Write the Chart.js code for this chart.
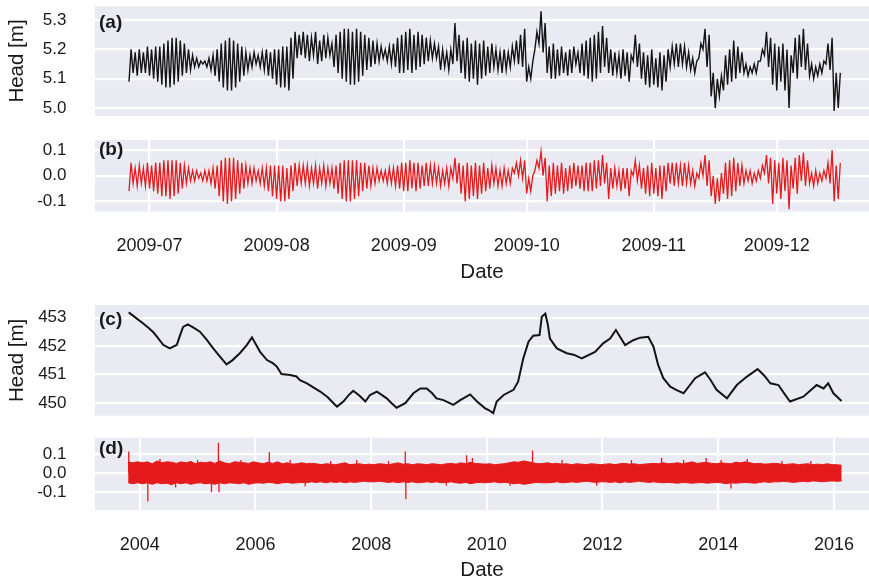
<!DOCTYPE html>
<html><head><meta charset="utf-8">
<script src="https://cdn.jsdelivr.net/npm/chart.js@4/dist/chart.umd.min.js"></script>
<style>
html,body{margin:0;padding:0;background:#fff;overflow:hidden;}
#wrap{position:relative;width:869px;height:582px;}
.pane{position:absolute;left:0;width:869px;}
</style></head><body>
<div id="wrap">
<div class="pane" style="top:0px;height:125px"><canvas id="ca" width="869" height="125"></canvas></div>
<div class="pane" style="top:125px;height:170px"><canvas id="cb" width="869" height="170"></canvas></div>
<div class="pane" style="top:295px;height:125px"><canvas id="cc" width="869" height="125"></canvas></div>
<div class="pane" style="top:420px;height:170px"><canvas id="cd" width="869" height="170"></canvas></div>
</div>
<script>
// ---------- DATA ----------
// Panels (a)/(b): day-of-year 2009 (Jan 1 = 0); one low and one high per day
const dayStart = 176; // 2009-06-26
const aHigh = [5.20,5.19,5.20,5.19,5.21,5.20,5.21, 5.21,5.22,5.23,5.24,5.24,5.23,5.22,5.20, 5.18,5.17,5.16,5.16,5.17,5.18,5.20,
  5.22,5.23,5.24,5.23,5.22,5.21,5.19, 5.18,5.19,5.18,5.19,5.20,5.19,5.20, 5.20,5.21,5.21,5.24, 5.26,5.25,5.26,
  5.25,5.24,5.26,5.23,5.25,5.24,5.22, 5.25,5.26,5.27,5.27,5.26,5.27,5.26,5.25,5.24,5.23, 5.22,5.21,5.20,5.21,5.22,
  5.24,5.25,5.26,5.27,5.25,5.26,5.25,5.24,5.23,5.22,5.21, 5.20,5.19,5.20, 5.29,5.25, 5.23,5.24,5.22,5.23,5.22,5.23,5.21,5.22,
  5.20,5.19,5.20,5.19,5.21, 5.23,5.25,5.27, 5.14,5.16, 5.26,5.33,5.29, 5.21,5.22,5.20,5.21,5.19,5.20,5.21,5.19,
  5.22,5.23,5.24,5.25,5.26,5.28,5.24, 5.20,5.19,5.18,5.20,5.19,5.18, 5.25,5.22, 5.19,5.18,5.20,5.17,5.19,5.18,5.20,
  5.21,5.22,5.22,5.21,5.19, 5.17,5.16, 5.22,5.27,5.25, 5.12,5.10,5.11, 5.18,5.20,5.23,5.21,5.19, 5.15,5.14,5.15,5.16,
  5.20,5.26,5.24, 5.22,5.21,5.22,5.20,5.18, 5.24,5.25,5.27,5.22, 5.15,5.14,5.15,5.16, 5.22,5.24, 5.12,5.12];
const aLow = [5.09,5.12,5.11,5.12,5.12,5.11,5.10, 5.09,5.08,5.07,5.07,5.08,5.09,5.11,5.12, 5.13,5.14,5.14,5.15,5.14,5.13,5.11,
  5.09,5.07,5.06,5.06,5.07,5.09,5.11, 5.13,5.14,5.15,5.14,5.13,5.11,5.10, 5.08,5.07,5.07,5.06, 5.10,5.17,5.18,
  5.17,5.16,5.18,5.15,5.16,5.17,5.18, 5.14,5.12,5.10,5.09,5.08,5.08,5.09,5.11,5.13,5.14, 5.15,5.16,5.17,5.16,5.15,
  5.14,5.12,5.12,5.13,5.12,5.13,5.14,5.15,5.16,5.17,5.17, 5.13,5.14,5.13, 5.15,5.16, 5.12,5.10,5.09,5.10,5.08,5.10,5.11,5.12,
  5.14,5.13,5.12,5.13,5.14, 5.16,5.15,5.14, 5.09,5.10, 5.20,5.22,5.19, 5.12,5.10,5.10,5.11,5.12,5.11,5.12,5.15,
  5.12,5.11,5.10,5.09,5.10,5.12,5.14, 5.12,5.11,5.12,5.10,5.11,5.09, 5.16,5.14, 5.10,5.08,5.07,5.08,5.07,5.06,5.09,
  5.14,5.15,5.14,5.15,5.14, 5.13,5.12, 5.17,5.20,5.14, 5.04,5.00,5.04, 5.06,5.08,5.09,5.10,5.12, 5.12,5.11,5.12,5.12,
  5.16,5.18,5.14, 5.08,5.06,5.09,5.06,5.00, 5.12,5.10,5.14,5.13, 5.11,5.10,5.11,5.12, 5.15,5.13, 4.99,5.00];
const bHigh = [0.05,0.03,0.04,0.03,0.05,0.04,0.05, 0.05,0.06,0.06,0.06,0.06,0.05,0.04,0.03, 0.02,0.02,0.01,0.02,0.02,0.03,0.04,
  0.06,0.07,0.07,0.07,0.06,0.05,0.04, 0.03,0.03,0.02,0.03,0.03,0.04,0.04, 0.04,0.04,0.03,0.04, 0.05,0.04,0.04,
  0.04,0.03,0.04,0.03,0.04,0.03,0.03, 0.04,0.05,0.06,0.06,0.06,0.06,0.05,0.05,0.04,0.03, 0.03,0.02,0.02,0.03,0.03,
  0.04,0.05,0.05,0.06,0.05,0.05,0.04,0.05,0.04,0.04,0.03, 0.02,0.03,0.03, 0.07,0.05, 0.04,0.05,0.04,0.05,0.04,0.05,0.03,0.04,
  0.03,0.02,0.03,0.02,0.03, 0.05,0.06,0.06, -0.01,0.00, 0.06,0.095,0.07, 0.04,0.05,0.04,0.05,0.03,0.04,0.05,0.04,
  0.04,0.05,0.05,0.06,0.06,0.08,0.05, 0.03,0.03,0.02,0.03,0.03,0.02, 0.06,0.04, 0.03,0.04,0.05,0.03,0.04,0.04,0.05,
  0.05,0.05,0.04,0.05,0.04, 0.02,0.01, 0.05,0.08,0.06, 0.00,-0.01,0.01, 0.05,0.06,0.07,0.05,0.04, 0.02,0.02,0.01,0.02,
  0.04,0.08,0.07, 0.06,0.05,0.07,0.06,0.04, 0.07,0.08,0.09,0.06, 0.01,0.02,0.01,0.02, 0.05,0.10, 0.04,0.05];
const bLow = [-0.06,-0.03,-0.04,-0.03,-0.04,-0.05,-0.06, -0.07,-0.08,-0.08,-0.09,-0.08,-0.07,-0.05,-0.03, -0.02,-0.02,-0.01,-0.02,-0.02,-0.03,-0.05,
  -0.08,-0.10,-0.11,-0.10,-0.09,-0.07,-0.05, -0.03,-0.03,-0.02,-0.03,-0.04,-0.06,-0.08, -0.09,-0.10,-0.10,-0.09, -0.06,-0.04,-0.03,
  -0.03,-0.04,-0.03,-0.05,-0.03,-0.04,-0.03, -0.05,-0.07,-0.09,-0.10,-0.10,-0.09,-0.08,-0.06,-0.05,-0.04, -0.03,-0.02,-0.02,-0.03,-0.03,
  -0.04,-0.05,-0.06,-0.06,-0.05,-0.06,-0.05,-0.04,-0.04,-0.03,-0.03, -0.04,-0.03,-0.04, -0.01,-0.03, -0.07,-0.10,-0.09,-0.08,-0.09,-0.07,-0.06,-0.05,
  -0.03,-0.04,-0.04,-0.03,-0.03, 0.01,0.00,-0.01, -0.07,-0.06, 0.02,0.03,0.00, -0.10,-0.08,-0.07,-0.06,-0.07,-0.06,-0.05,-0.04,
  -0.05,-0.06,-0.06,-0.06,-0.05,-0.04,-0.03, -0.09,-0.05,-0.04,-0.06,-0.05,-0.08, 0.00,-0.02, -0.05,-0.07,-0.08,-0.07,-0.08,-0.09,-0.06,
  -0.03,-0.04,-0.03,-0.04,-0.03, -0.03,-0.04, -0.01,0.00,-0.04, -0.08,-0.11,-0.10, -0.07,-0.09,-0.08,-0.06,-0.04, -0.03,-0.02,-0.03,-0.02,
  -0.01,0.01,-0.03, -0.11,-0.07,-0.09,-0.06,-0.13, -0.05,-0.07,-0.02,-0.04, -0.03,-0.04,-0.03,-0.02, -0.01,-0.03, -0.10,-0.09];
const monthTickDays = [181, 212, 243, 273, 304, 334];
const monthTickLabels = ['2009-07','2009-08','2009-09','2009-10','2009-11','2009-12'];
const aYTicks = [5.0, 5.1, 5.2, 5.3];
const aYLabels = ['5.0','5.1','5.2','5.3'];
const bYTicks = [-0.1, 0.0, 0.1];
const bYLabels = ['-0.1','0.0','0.1'];

// Panels (c)/(d): decimal years
const cYears = [2003.81,2003.9,2004.06,2004.15,2004.24,2004.33,2004.41,2004.52,2004.58,2004.64,2004.70,2004.75,2004.83,2004.93,
  2005.04,2005.15,2005.27,2005.38,2005.50,2005.60,2005.73,2005.85,2005.94,2006.08,2006.20,2006.30,2006.37,2006.45,2006.60,
  2006.71,2006.77,2006.89,2007.0,2007.12,2007.25,2007.35,2007.41,2007.52,2007.60,2007.69,2007.80,2007.90,2007.98,2008.10,
  2008.27,2008.35,2008.44,2008.59,2008.73,2008.85,2008.96,2009.05,2009.13,2009.25,2009.42,2009.54,2009.71,2009.83,2009.97,
  2010.03,2010.11,2010.17,2010.29,2010.46,2010.54,2010.63,2010.72,2010.80,2010.91,2010.95,2011.01,2011.05,2011.09,2011.21,
  2011.38,2011.50,2011.64,2011.87,2012.01,2012.13,2012.23,2012.39,2012.53,2012.65,2012.79,2012.88,2012.96,2013.05,2013.17,
  2013.28,2013.40,2013.60,2013.77,2013.87,2013.97,2014.15,2014.32,2014.49,2014.68,2014.80,2014.90,2015.04,2015.15,2015.24,
  2015.47,2015.70,2015.82,2015.90,2015.99,2016.13];
const cHead = [453.19,453.05,452.80,452.65,452.48,452.25,452.04,451.92,451.98,452.04,452.40,452.68,452.77,452.65,
  452.51,452.25,451.92,451.65,451.36,451.50,451.75,452.04,452.31,451.80,451.51,451.40,451.28,451.02,450.98,
  450.93,450.80,450.69,450.55,450.40,450.20,449.99,449.87,450.05,450.25,450.43,450.25,450.05,450.28,450.40,
  450.16,450.00,449.83,449.99,450.34,450.51,450.51,450.35,450.16,450.10,449.93,450.10,450.30,450.05,449.81,
  449.75,449.64,450.05,450.28,450.46,450.75,451.57,452.16,452.37,452.39,453.04,453.15,452.80,452.27,451.92,
  451.75,451.70,451.57,451.80,452.10,452.27,452.57,452.04,452.21,452.30,452.33,451.98,451.34,450.87,450.57,
  450.45,450.34,450.87,451.08,450.80,450.46,450.16,450.63,450.92,451.19,450.95,450.69,450.63,450.30,450.05,
  450.22,450.63,450.51,450.69,450.34,450.07];
const cYTicks = [450, 451, 452, 453];
const cYLabels = ['450','451','452','453'];

const dStart = 2003.80; // monthly envelope of the residual band
const dUp = [0.06,0.055,0.06,
  0.055,0.06,0.05,0.065,0.055,0.06,0.058,0.052,0.06,0.055,0.062,0.05,
  0.058,0.055,0.06,0.052,0.065,0.055,0.05,0.06,0.058,0.055,0.052,0.06,
  0.055,0.05,0.058,0.052,0.06,0.05,0.055,0.048,0.05,0.055,0.05,0.052,
  0.05,0.045,0.05,0.048,0.045,0.05,0.055,0.045,0.048,0.05,0.045,0.048,
  0.045,0.05,0.048,0.045,0.05,0.055,0.048,0.05,0.045,0.05,0.048,0.045,
  0.05,0.048,0.045,0.05,0.052,0.048,0.055,0.05,0.058,0.052,0.05,0.048,
  0.05,0.045,0.048,0.05,0.055,0.06,0.058,0.065,0.06,0.055,0.05,0.052,
  0.055,0.05,0.052,0.048,0.05,0.045,0.05,0.048,0.045,0.05,0.048,0.045,
  0.048,0.05,0.045,0.05,0.052,0.048,0.05,0.045,0.048,0.05,0.052,0.05,
  0.055,0.05,0.052,0.055,0.05,0.055,0.06,0.052,0.055,0.058,0.052,0.05,
  0.055,0.052,0.05,0.058,0.055,0.06,0.055,0.05,0.052,0.048,0.05,0.052,
  0.05,0.045,0.048,0.05,0.045,0.048,0.05,0.045,0.048,0.045,0.05,0.045,
  0.045,0.042];
const dLo = [-0.05,-0.055,-0.05,
  -0.055,-0.05,-0.058,-0.05,-0.055,-0.052,-0.06,-0.05,-0.055,-0.05,-0.058,-0.052,
  -0.05,-0.055,-0.052,-0.058,-0.05,-0.055,-0.05,-0.052,-0.055,-0.05,-0.058,-0.052,
  -0.05,-0.052,-0.048,-0.05,-0.055,-0.05,-0.048,-0.052,-0.05,-0.048,-0.05,-0.045,
  -0.048,-0.045,-0.05,-0.045,-0.048,-0.045,-0.05,-0.045,-0.048,-0.045,-0.042,-0.045,
  -0.045,-0.042,-0.045,-0.048,-0.045,-0.05,-0.045,-0.048,-0.045,-0.05,-0.048,-0.045,
  -0.048,-0.045,-0.05,-0.048,-0.045,-0.05,-0.052,-0.048,-0.055,-0.05,-0.048,-0.05,
  -0.048,-0.045,-0.05,-0.048,-0.05,-0.055,-0.052,-0.058,-0.055,-0.05,-0.048,-0.05,
  -0.05,-0.048,-0.045,-0.05,-0.048,-0.045,-0.048,-0.045,-0.042,-0.045,-0.048,-0.045,
  -0.045,-0.048,-0.045,-0.05,-0.045,-0.048,-0.045,-0.042,-0.045,-0.048,-0.045,-0.048,
  -0.05,-0.048,-0.05,-0.052,-0.048,-0.05,-0.052,-0.05,-0.048,-0.052,-0.05,-0.048,
  -0.05,-0.055,-0.05,-0.052,-0.05,-0.048,-0.05,-0.052,-0.048,-0.045,-0.048,-0.045,
  -0.045,-0.042,-0.045,-0.048,-0.045,-0.042,-0.045,-0.04,-0.042,-0.045,-0.042,-0.04,
  -0.042,-0.04];
const dSpikeYears = [2003.81,2004.14,2004.35,2004.62,2005.0,2005.24,2005.36,2005.37,2005.75,2006.24,2006.6,2006.86,2007.3,
  2007.75,2008.3,2008.59,2008.60,2009.3,2009.65,2009.75,2010.4,2010.79,2011.3,2011.9,2012.5,2013.02,2013.4,2013.79,2014.05,
  2014.22,2014.5,2015.1,2015.6];
const dSpikeValues = [0.115,-0.148,0.075,-0.075,0.07,-0.10,0.16,-0.10,0.07,0.11,0.07,-0.07,0.065,
  0.07,0.065,0.115,-0.137,-0.065,0.095,0.08,-0.065,0.12,0.07,-0.065,0.07,0.08,0.07,0.08,0.07,
  -0.08,0.075,0.065,0.065];
const yearTicks = [2004,2006,2008,2010,2012,2014,2016];
const yearTickLabels = ['2004','2006','2008','2010','2012','2014','2016'];
const dYTicks = [-0.1, 0.0, 0.1];
const dYLabels = ['-0.1','0.0','0.1'];

// ---------- STYLE ----------
const FONT = "'Liberation Sans', Arial, sans-serif";
const TXT = '#1a1a1a';
const BG = '#EAEAF2';
const RED = '#e41a1c';
const BLACK = '#141414';
const CLEAR = 'rgba(0,0,0,0)';

const bgPlugin = {
  id: 'bgPlugin',
  beforeDraw(chart) {
    const a = chart.chartArea, ctx = chart.ctx;
    ctx.save(); ctx.fillStyle = BG; ctx.fillRect(a.left, a.top, a.right - a.left, a.bottom - a.top); ctx.restore();
  },
  afterDraw(chart) {
    const o = chart.options.plugins.bgPlugin;
    if (!o || !o.label) return;
    const a = chart.chartArea, ctx = chart.ctx;
    ctx.save();
    ctx.font = 'bold 19px ' + FONT; ctx.fillStyle = TXT;
    ctx.textAlign = 'left'; ctx.textBaseline = 'middle';
    ctx.fillText(o.label, a.left + 4, a.top + o.dy);
    ctx.restore();
  }
};

function tickSetter(vals) {
  return function (scale) { scale.ticks = vals.map(v => ({ value: v })); };
}
function labeler(vals, labels) {
  return function (v) { const i = vals.findIndex(t => Math.abs(t - v) < 1e-6); return i >= 0 ? labels[i] : ''; };
}

function makeChart(id, datasets, o) {
  const xScale = {
    type: 'linear', min: o.xmin, max: o.xmax, display: !!o.xTicks,
    grid: { color: '#ffffff', lineWidth: 2.2, drawTicks: true, tickLength: o.xPad || 0, tickColor: CLEAR },
    border: { display: false },
  };
  if (o.xTicks) {
    xScale.afterBuildTicks = tickSetter(o.xTicks);
    xScale.ticks = { callback: labeler(o.xTicks, o.xLabels), color: TXT, font: { family: FONT, size: 18 }, padding: 0, maxRotation: 0, autoSkip: false };
    xScale.title = { display: true, text: 'Date', color: TXT, font: { family: FONT, size: 20.5 }, padding: { top: 0, bottom: o.titlePad } };
    xScale.afterFit = s => { s.height = o.xHeight; };
  }
  const yScale = {
    type: 'linear', min: o.ymin, max: o.ymax,
    afterBuildTicks: tickSetter(o.yTicks),
    ticks: { callback: labeler(o.yTicks, o.yLabels), color: TXT, font: { family: FONT, size: 17, lineHeight: 0.4 }, padding: 0, autoSkip: false },
    grid: { color: '#ffffff', lineWidth: 2.2, drawTicks: true, tickLength: 28.5, tickColor: CLEAR },
    border: { display: false },
    title: { display: !!o.yTitle, text: 'Head [m]', color: TXT, font: { family: FONT, size: 20.5 }, padding: { top: 4.7, bottom: 0 } },
    afterFit: s => { s.width = 95; }
  };
  return new Chart(document.getElementById(id), {
    type: 'line',
    data: { datasets },
    options: {
      responsive: false, animation: false, devicePixelRatio: 1,
      layout: { autoPadding: false, padding: { top: o.padTop, bottom: o.padBottom, left: 0, right: 0 } },
      scales: { x: xScale, y: yScale },
      plugins: { legend: { display: false }, tooltip: { enabled: false }, bgPlugin: { label: o.label, dy: o.labelDy } },
      elements: { point: { radius: 0 }, line: { tension: 0 } }
    },
    plugins: [bgPlugin]
  });
}

function zigzag(lows, highs) {
  const pts = [];
  for (let i = 0; i < lows.length; i++) {
    pts.push({ x: dayStart + i, y: lows[i] });
    pts.push({ x: dayStart + i + 0.5, y: highs[i] });
  }
  return pts;
}

const XMIN_AB = 167.7, XMAX_AB = 356.5;
const XMIN_CD = 2003.227, XMAX_CD = 2016.605;

makeChart('ca', [{ data: zigzag(aLow, aHigh), borderColor: BLACK, borderWidth: 1.4, fill: false }], {
  xmin: XMIN_AB, xmax: XMAX_AB, ymin: 4.973, ymax: 5.348, yTicks: aYTicks, yLabels: aYLabels, yTitle: true,
  padTop: 6, padBottom: 9, label: '(a)', labelDy: 17
});
makeChart('cb', [{ data: zigzag(bLow, bHigh), borderColor: RED, borderWidth: 1.3, fill: false }], {
  xmin: XMIN_AB, xmax: XMAX_AB, ymin: -0.14, ymax: 0.139, yTicks: bYTicks, yLabels: bYLabels,
  xTicks: monthTickDays, xLabels: monthTickLabels, xPad: 23.2, xHeight: 83.3, titlePad: 10,
  padTop: 15, padBottom: 0, label: '(b)', labelDy: 10
});
makeChart('cc', [{ data: cYears.map((x, i) => ({ x, y: cHead[i] })), borderColor: BLACK, borderWidth: 2, fill: false }], {
  xmin: XMIN_CD, xmax: XMAX_CD, ymin: 449.55, ymax: 453.45, yTicks: cYTicks, yLabels: cYLabels, yTitle: true,
  padTop: 10, padBottom: 4.3, label: '(c)', labelDy: 15
});
const spikePts = [];
dSpikeYears.forEach((t, i) => { spikePts.push({ x: t, y: 0 }, { x: t, y: dSpikeValues[i] }, { x: t, y: null }); });
makeChart('cd', [
  { data: dUp.map((v, i) => ({ x: dStart + i / 12, y: v })), borderColor: RED, backgroundColor: RED, borderWidth: 1, fill: '+1' },
  { data: dLo.map((v, i) => ({ x: dStart + i / 12, y: v })), borderColor: RED, borderWidth: 1, fill: false },
  { data: spikePts, borderColor: RED, borderWidth: 1.3, fill: false, spanGaps: false }
], {
  xmin: XMIN_CD, xmax: XMAX_CD, ymin: -0.193, ymax: 0.187, yTicks: dYTicks, yLabels: dYLabels,
  xTicks: yearTicks, xLabels: yearTickLabels, xPad: 23.9, xHeight: 80, titlePad: 7,
  padTop: 17.7, padBottom: 0, label: '(d)', labelDy: 10.6
});
</script>
</body></html>
